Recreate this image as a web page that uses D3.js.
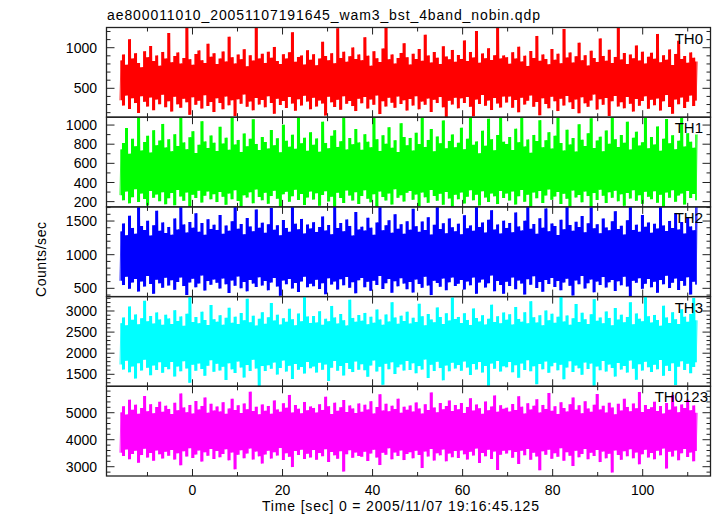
<!DOCTYPE html>
<html><head><meta charset="utf-8">
<script src="https://cdn.jsdelivr.net/npm/d3@7"></script>
<style>body{margin:0;background:#fff}text{font-family:"Liberation Sans",Arial,sans-serif;fill:#000}</style>
</head><body><svg id="c" width="717" height="516"></svg>
<script>
const title = "ae800011010_20051107191645_wam3_bst_4band_nobin.qdp";
const xLabel = "Time [sec] 0 = 2005/11/07 19:16:45.125";
const yLabel = "Counts/sec";
const tStart = -16, tEnd = 112;
const xDomain = [-19.1, 115.06];
const xMajor = [0, 20, 40, 60, 80, 100];
const xMinor = [-10, 10, 30, 50, 70, 90, 110];
const bands = ["TH0", "TH1", "TH2", "TH3", "TH0123"];
const colors = ["#ff0000", "#00ff00", "#0000ff", "#00ffff", "#ff00ff"];
const yDomains = [[144, 1249], [145, 1082], [377, 1710], [1216, 3341], [2656, 5978]];
const yMajor = [[500, 1000], [200, 400, 600, 800, 1000], [500, 1000, 1500], [1500, 2000, 2500, 3000], [3000, 4000, 5000]];
const yMinorStep = [100, 100, 100, 100, 200];

// per-bin maxima / minima of each light curve (counts/sec)
const th0Hi = [842,915,790,1105,868,932,811,760,955,884,1020,836,903,779,948,866,
1180,820,897,941,805,873,1262,858,790,922,967,845,812,1048,889,931,
798,866,953,830,1135,884,807,915,859,982,772,906,841,1275,868,925,
813,950,877,1010,835,799,921,868,944,1190,826,887,903,792,968,851,
920,784,866,1072,897,845,931,809,1240,873,950,828,895,1003,861,917,
847,1128,902,779,956,870,823,989,1270,858,917,804,872,936,1055,881,
793,925,861,984,839,1160,905,818,946,877,800,1018,891,857,973,826,
910,862,1090,835,948,880,1205,816,930,871,992,849,906,1265,868,905,
881,803,945,867,1012,829,902,776,958,874,1145,838,917,861,795,983,
852,926,808,1230,879,941,817,895,1062,846,908,781,963,872,825,1115,
899,840,975,812,887,1258,856,934,798,915,869,1027,843,951,806,889,
937,865,1170,820,906,853,979,787,924,1085,862,898,815,942,876,830];
const th0Lo = [352,289,410,245,378,318,196,402,333,275,388,231,361,305,420,268,
340,214,395,302,260,371,328,173,389,296,348,251,415,282,330,207,
377,318,243,398,291,352,158,364,310,425,273,338,229,382,301,356,
266,402,319,188,370,295,343,258,392,312,225,365,288,409,336,242,
383,276,351,312,164,397,327,269,358,237,401,309,345,281,219,372,
315,392,250,363,298,412,182,341,276,385,323,259,399,306,352,227,
369,287,403,241,336,297,374,208,359,318,392,266,142,347,301,384,
253,376,320,394,272,155,361,308,417,285,349,232,380,314,262,398,
324,398,261,357,205,384,299,346,412,273,331,168,377,308,254,395,
341,219,372,289,406,327,246,363,194,389,315,272,351,423,238,366,
297,381,160,342,405,277,329,253,394,311,213,368,286,344,401,249,
358,292,375,226,339,416,270,186,362,304,387,258,335,410,281,349];
const th1Hi = [745,812,968,701,856,779,1090,734,823,887,712,945,790,838,1012,766,
851,727,903,781,1095,819,748,872,935,707,794,1040,829,761,890,815,
730,981,806,868,742,1088,797,845,719,912,778,856,1060,803,739,874,
822,756,948,790,861,715,1002,836,774,899,752,1092,809,867,731,925,
794,860,722,1035,813,758,887,946,772,830,1089,745,864,799,958,818,
741,905,826,769,1075,852,730,893,805,977,763,841,718,1020,874,788,
866,735,919,801,1091,772,845,959,726,880,811,1048,757,834,902,769,
815,972,748,858,1086,793,829,706,941,784,1066,852,737,895,1093,826,
803,875,739,962,821,1084,776,849,710,897,833,1051,768,842,926,754,
889,1093,812,735,951,798,864,723,1008,846,781,915,1071,760,838,879,
727,943,805,1089,852,771,896,815,1035,744,868,931,786,820,1094,757,
874,798,985,732,858,1062,809,893,748,837,1080,776,914,825,763,902];
const th1Lo = [268,214,305,182,247,330,196,285,228,159,312,241,275,205,298,172,
236,289,163,321,254,209,296,142,273,238,315,191,262,307,224,278,
195,301,252,168,284,226,319,207,139,266,243,297,183,328,249,215,
292,177,258,313,231,146,276,302,199,257,324,218,281,165,243,306,
221,287,158,269,309,202,251,136,293,238,186,317,263,212,299,176,
259,318,230,193,277,144,306,248,213,286,171,329,240,267,201,293,
312,219,274,152,295,245,188,321,260,208,283,167,301,234,140,271,
225,296,181,252,319,214,273,160,308,243,197,286,255,174,311,239,
284,211,307,169,256,322,198,273,143,295,236,310,187,264,328,220,
253,301,176,282,229,149,316,244,270,193,305,258,134,289,217,325,
262,185,298,240,314,203,276,157,291,233,319,208,267,178,303,250,
226,308,189,272,147,296,241,318,199,263,285,170,311,237,281,215];
const th2Hi = [1345,1462,1290,1578,1398,1312,1720,1425,1367,1503,1284,1436,1652,1356,1480,1321,
1412,1297,1538,1376,1730,1449,1330,1486,1402,1615,1341,1470,1295,1527,1383,1445,
1368,1589,1310,1432,1357,1498,1725,1386,1455,1302,1544,1419,1350,1672,1401,1476,
1325,1452,1693,1371,1437,1289,1515,1398,1341,1728,1460,1378,1532,1316,1447,1390,
1483,1338,1410,1566,1359,1441,1302,1718,1395,1469,1348,1521,1427,1285,1634,1374,
1416,1358,1547,1401,1295,1479,1733,1362,1438,1510,1327,1600,1384,1453,1311,1495,
1372,1681,1423,1340,1492,1365,1557,1298,1444,1722,1380,1466,1319,1539,1407,1348,
1461,1303,1587,1392,1435,1356,1715,1412,1477,1329,1520,1661,1373,1448,1315,1506,
1398,1472,1335,1626,1419,1361,1505,1727,1384,1456,1310,1541,1402,1688,1349,1463,
1426,1292,1519,1377,1731,1440,1356,1488,1410,1574,1333,1467,1702,1391,1451,1318,
1536,1404,1363,1495,1647,1381,1429,1300,1513,1724,1368,1446,1342,1590,1415,1477,
1327,1458,1388,1719,1433,1352,1502,1396,1620,1374,1485,1313,1552,1420,1362,1728];
const th2Lo = [612,548,671,495,587,640,452,603,527,683,566,418,629,574,509,656,
541,620,477,595,661,533,402,588,642,515,572,690,468,607,553,631,
583,497,646,560,431,618,539,677,502,594,455,625,571,520,664,542,
609,470,585,654,528,391,617,562,638,499,580,446,603,672,517,569,
532,626,489,575,413,648,557,600,481,636,545,668,508,592,425,619,
655,517,598,463,614,550,683,491,577,637,436,606,529,651,570,488,
594,438,631,565,507,673,542,399,612,580,524,645,473,589,660,536,
568,624,482,603,545,660,419,586,631,513,574,690,457,608,551,421,
597,534,662,488,615,571,410,636,552,679,506,593,448,624,565,653,
520,607,472,586,643,537,395,618,562,684,499,576,630,441,601,548,
667,513,589,625,462,604,545,672,528,384,613,581,650,492,567,638,
515,596,433,622,559,686,503,583,645,476,610,539,663,407,598,556];
const th3Hi = [2712,2845,2660,3105,2790,2918,2685,2830,3240,2755,2880,2702,2965,2798,2673,2910,
2823,2690,3018,2764,2871,2648,2935,3360,2740,2856,2711,2983,2786,2668,3142,2805,
2748,2902,2677,2838,3075,2721,2866,2693,2950,2782,3290,2734,2888,2655,2817,2971,
2696,2853,3190,2775,2912,2681,2829,2744,3052,2807,2665,2939,2760,3340,2871,2718,
2881,2729,2993,2672,2815,2758,3120,2847,2702,2926,2783,2659,3265,2836,2745,2903,
2770,2955,2687,2862,2724,3035,2801,2676,2917,2752,3210,2843,2698,2890,2763,2984,
2705,2839,2742,3170,2874,2661,2928,2797,2731,3085,2858,2689,2944,2776,3320,2812,
2860,2715,2947,2788,2670,3060,2833,2754,2899,2681,2816,3150,2739,2875,2707,2962,
2794,2921,2683,3095,2812,2746,2968,2707,3230,2850,2726,2897,2662,3010,2781,2935,
2719,2864,3345,2752,2893,2674,2826,3165,2741,2958,2802,2689,2925,3280,2768,2843,
2711,2989,2837,2664,3070,2796,2913,2735,2859,3205,2687,2942,2815,2758,3355,2876,
2729,2907,2784,2653,3125,2848,2716,2971,2803,2690,3040,2866,2743,2929,3310,2778];
const th3Lo = [1732,1615,1820,1548,1687,1402,1765,1590,1843,1656,1480,1711,1604,1788,1535,1672,
1622,1794,1451,1683,1571,1809,1640,1298,1727,1583,1756,1625,1466,1703,1835,1560,
1748,1593,1681,1367,1760,1617,1532,1802,1664,1425,1719,1578,1846,1639,1215,1695,
1577,1716,1633,1780,1496,1651,1828,1564,1702,1389,1745,1610,1672,1521,1791,1646,
1684,1542,1772,1607,1735,1340,1658,1813,1587,1699,1474,1767,1628,1552,1806,1611,
1739,1598,1443,1706,1829,1569,1677,1250,1752,1621,1784,1506,1668,1735,1590,1817,
1603,1761,1527,1694,1615,1850,1412,1725,1581,1798,1647,1358,1710,1573,1776,1639,
1718,1586,1805,1660,1483,1742,1613,1789,1545,1697,1232,1754,1629,1815,1568,1690,
1665,1792,1548,1716,1420,1758,1603,1834,1574,1689,1267,1747,1618,1805,1536,1692,
1772,1595,1725,1381,1661,1812,1557,1706,1643,1489,1780,1625,1754,1228,1687,1599,
1818,1566,1733,1652,1446,1769,1612,1697,1541,1826,1634,1373,1741,1588,1795,1670,
1554,1728,1617,1842,1463,1700,1579,1763,1246,1682,1808,1605,1749,1528,1675,1787];
const th0123Hi = [5012,5236,4935,5480,5105,5298,4960,5170,5620,5058,5315,4982,5210,5405,5034,5262,
5140,4948,5365,5087,5710,5195,5021,5288,4970,5432,5116,5245,5560,5003,5328,5082,
5226,5047,5390,4958,5160,5515,5098,5275,4990,5342,5130,5780,5065,5218,4942,5305,
5074,5250,4965,5455,5122,5037,5352,5186,5660,5010,5283,5145,4978,5398,5091,5232,
5178,5006,5310,5104,5590,5240,4952,5372,5068,5205,5470,5025,5268,5152,4986,5345,
5032,5295,5118,5425,4975,5208,5680,5085,5330,5050,5260,5138,5520,4998,5222,5110,
5268,5042,5380,5156,4968,5310,5098,5750,5190,5016,5355,5124,5245,5450,5060,5285,
5128,5358,4992,5214,5540,5078,5302,5166,4958,5412,5094,5230,5635,5040,5276,5150,
5185,5042,5318,5096,5605,5223,4970,5346,5117,5260,5498,5012,5289,5140,5732,5068,
5237,4956,5383,5170,5046,5312,5560,5108,5272,4984,5420,5155,5033,5296,5690,5121,
5254,5009,5367,5192,4946,5328,5080,5515,5214,5052,5339,5163,5770,5026,5281,5135,
5199,5404,5061,5246,4973,5360,5112,5645,5228,5019,5306,5175,5480,5089,5265,4995];
const th0123Lo = [3520,3395,3640,3280,3475,3590,3150,3430,3665,3340,3510,3225,3600,3460,3305,3555,
3410,3620,3265,3495,3052,3570,3380,3685,3320,3450,3605,3190,3535,3405,3660,3290,
3580,3350,3470,3645,3235,3525,2905,3440,3610,3315,3490,3675,3270,3560,3385,3120,
3455,3595,3300,3540,3415,3690,3250,3500,3365,2985,3585,3435,3630,3285,3480,3345,
3615,3260,3505,3390,3650,3175,3545,3420,3295,3575,2820,3465,3610,3330,3525,3400,
3370,3555,3210,3485,3625,3340,3060,3515,3445,3680,3275,3530,3395,3605,3245,3475,
3540,3310,3595,3435,2950,3565,3380,3655,3230,3500,3420,3640,3200,3490,3355,3585,
3325,3600,3460,3270,3550,3415,3670,3140,3510,3390,3625,3285,3560,2880,3445,3590,
3485,3610,3330,3545,3105,3590,3425,3660,3260,3515,3380,2870,3570,3445,3630,3295,
3500,3365,3685,3225,3540,3410,3025,3595,3350,3470,3655,3280,3520,3395,3620,3170,
3560,3310,3480,2790,3605,3435,3255,3575,3390,3645,3315,3530,3090,3460,3625,3345,
3510,3275,3590,3420,3670,2935,3550,3375,3600,3240,3495,3655,3360,3525,3200,3580];

const his = [th0Hi, th1Hi, th2Hi, th3Hi, th0123Hi];
const los = [th0Lo, th1Lo, th2Lo, th3Lo, th0123Lo];

const L = 106.5, R = 710.5, T = 27.5, PH = 89.7;
const svg = d3.select("#c");
const x = d3.scaleLinear().domain(xDomain).range([L, R]);

svg.append("text").attr("x", 107).attr("y", 19.5).attr("font-size", 14)
  .attr("textLength", 433).attr("lengthAdjust", "spacing").text(title);
svg.append("text").attr("x", 400.5).attr("y", 510.5).attr("font-size", 14)
  .attr("text-anchor", "middle").attr("textLength", 277).attr("lengthAdjust", "spacing").text(xLabel);
svg.append("text").attr("transform", "translate(46,259.5) rotate(-90)").attr("font-size", 14)
  .attr("text-anchor", "middle").attr("textLength", 75).attr("lengthAdjust", "spacing").text(yLabel);

const tickCol = "#222";
bands.forEach((name, p) => {
  const top = T + p * PH, bot = top + PH;
  const y = d3.scaleLinear().domain(yDomains[p]).range([bot, top]);
  const g = svg.append("g");
  const cid = "clip" + p;
  g.append("clipPath").attr("id", cid).append("rect")
    .attr("x", L).attr("y", top).attr("width", R - L).attr("height", PH);
  // each time bin filled from its minimum to its maximum
  const n = his[p].length;
  const idx = d3.scaleLinear().domain([0, n - 1]).range([tStart, tEnd]);
  const area = d3.area().curve(d3.curveStep)
    .x((d, i) => x(idx(i))).y0((d, i) => y(los[p][i])).y1(d => y(d));
  g.append("path").attr("clip-path", `url(#${cid})`).attr("d", area(his[p]))
    .attr("fill", colors[p]).attr("stroke", "none");
  // connecting trace between the bin extremes
  const pts = [];
  his[p].forEach((h, i) => { pts.push([i - 0.25, los[p][i]]); pts.push([i + 0.25, h]); });
  const line = d3.line().x(d => x(idx(d[0]))).y(d => y(d[1]));
  g.append("path").attr("clip-path", `url(#${cid})`).attr("d", line(pts))
    .attr("fill", "none").attr("stroke", colors[p]).attr("stroke-width", 1)
    .attr("stroke-opacity", 0.55).attr("stroke-linejoin", "bevel");
  // frame
  g.append("rect").attr("x", L).attr("y", top).attr("width", R - L).attr("height", PH)
    .attr("fill", "none").attr("stroke", tickCol).attr("stroke-width", 1.3);
  // y ticks
  const [d0, d1] = yDomains[p];
  const st = yMinorStep[p];
  const minors = d3.range(Math.ceil(d0 / st) * st, d1, st).filter(v => !yMajor[p].includes(v));
  const tk = (v, len) => {
    g.append("line").attr("x1", L).attr("x2", L + len).attr("y1", y(v)).attr("y2", y(v)).attr("stroke", tickCol);
    g.append("line").attr("x1", R).attr("x2", R - len).attr("y1", y(v)).attr("y2", y(v)).attr("stroke", tickCol);
  };
  minors.forEach(v => tk(v, 4));
  yMajor[p].forEach(v => {
    tk(v, 8);
    g.append("text").attr("x", 97).attr("y", y(v)).attr("dy", "0.36em").attr("font-size", 14)
      .attr("text-anchor", "end").text(v);
  });
  // x ticks
  const xt = (v, len) => {
    g.append("line").attr("x1", x(v)).attr("x2", x(v)).attr("y1", top).attr("y2", top + len).attr("stroke", tickCol);
    g.append("line").attr("x1", x(v)).attr("x2", x(v)).attr("y1", bot).attr("y2", bot - len).attr("stroke", tickCol);
  };
  xMinor.forEach(v => xt(v, 4));
  xMajor.forEach(v => xt(v, 7));
  // band label
  g.append("text").attr("x", name.length > 3 ? 708 : 703).attr("y", top + 16).attr("font-size", 15)
    .attr("text-anchor", "end").text(name);
});
// bottom axis labels
xMajor.forEach(v => {
  svg.append("text").attr("x", x(v)).attr("y", 494.5).attr("font-size", 14)
    .attr("text-anchor", "middle").text(v);
});
</script></body></html>
